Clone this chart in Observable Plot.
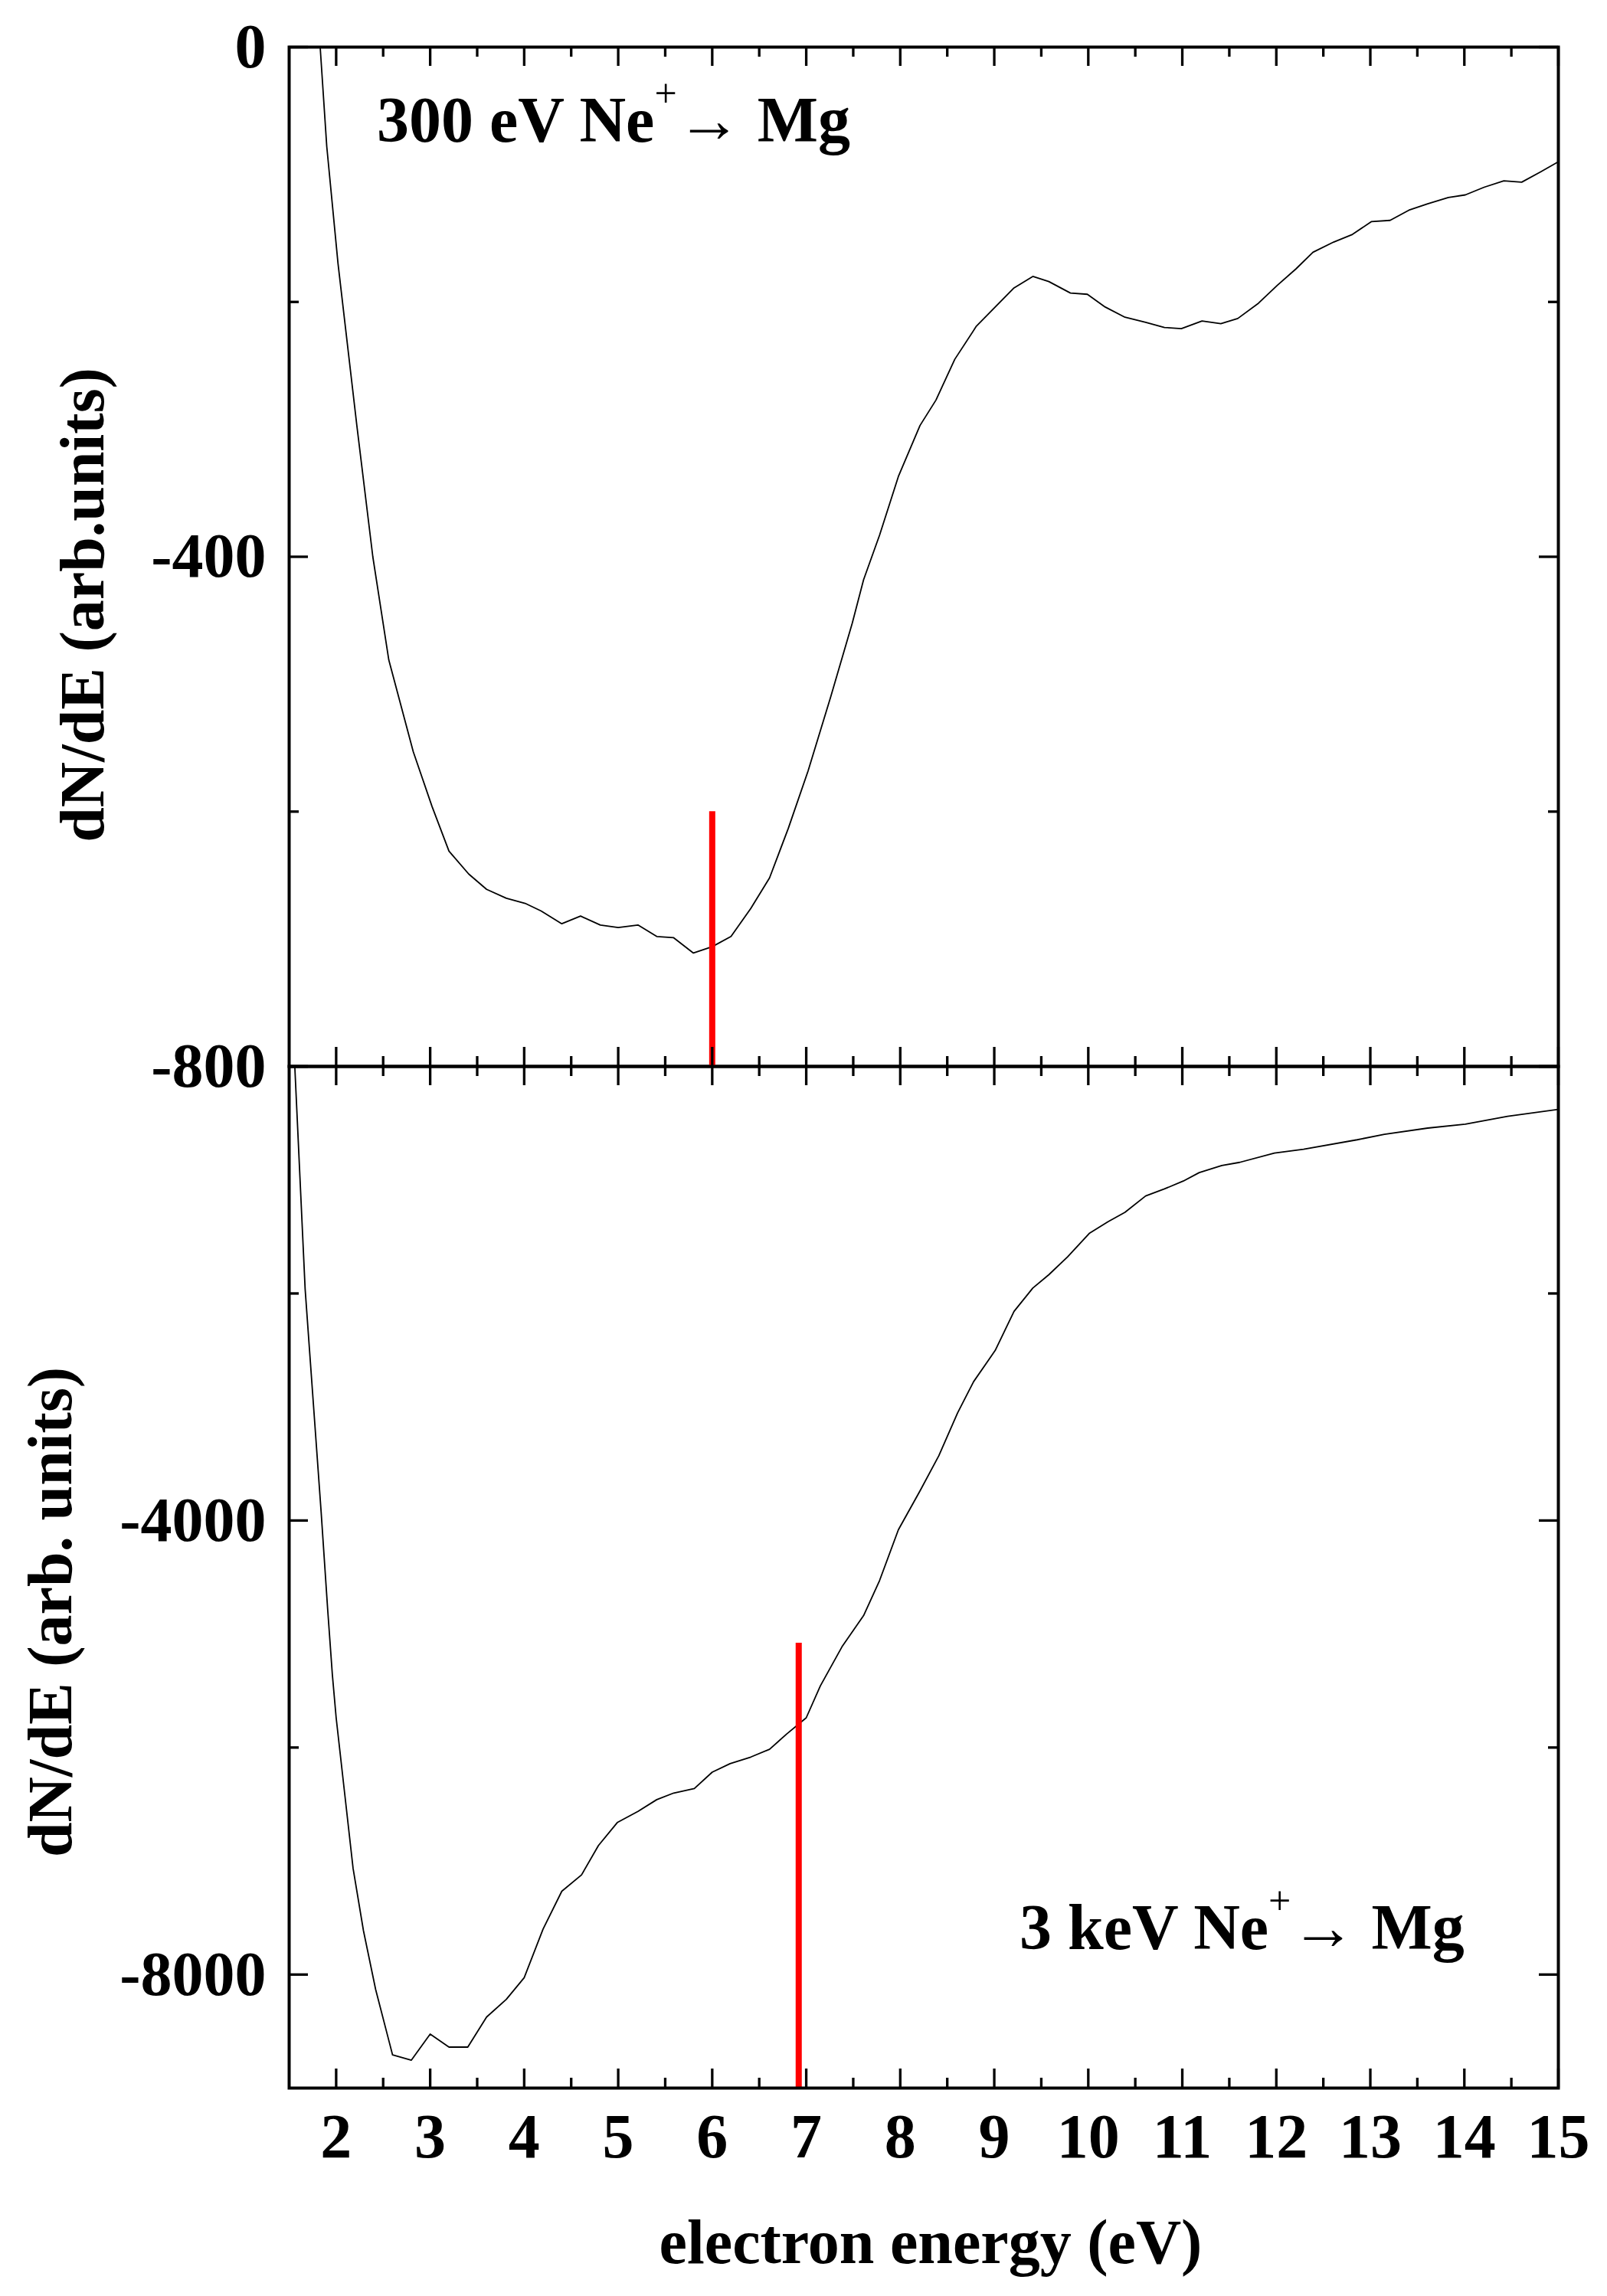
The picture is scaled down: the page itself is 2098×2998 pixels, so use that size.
<!DOCTYPE html>
<html>
<head>
<meta charset="utf-8">
<script src="https://cdn.jsdelivr.net/npm/d3@7"></script>
<script src="https://cdn.jsdelivr.net/npm/@observablehq/plot@0.6"></script>
<style>
  html, body { margin: 0; padding: 0; background: #fff; }
  #wrap { position: relative; width: 2098px; height: 2998px; overflow: hidden; background: #fff; }
  #wrap svg { position: absolute; left: 0; overflow: visible; }
</style>
</head>
<body>
<div id="wrap"></div>
<script>
// ---------- data ----------
const energy300 = [1.83,1.90,2.02,2.22,2.39,2.56,2.82,3.02,3.20,3.41,3.60,3.81,4.01,4.18,4.40,4.60,4.81,5.00,5.21,5.41,5.59,5.80,6.00,6.20,6.41,6.61,6.81,7.02,7.26,7.49,7.61,7.78,7.98,8.21,8.38,8.58,8.81,9.01,9.21,9.41,9.58,9.81,9.99,10.18,10.39,10.61,10.81,10.99,11.21,11.41,11.59,11.81,12.01,12.21,12.39,12.61,12.81,13.01,13.21,13.41,13.61,13.83,14.01,14.21,14.42,14.61,14.81,15.0];
const dNdE300 = [0,-78,-170,-297,-400,-481,-553,-596,-631,-649,-661,-668,-672,-678,-688,-682,-689,-691,-689,-698,-699,-711,-706,-698,-676,-652,-613,-568,-510,-452,-418,-383,-337,-297,-277,-245,-219,-204,-189,-180,-184,-193,-194,-204,-212,-216,-220,-221,-215,-217,-213,-201,-187,-174,-161,-153,-147,-137,-136,-128,-123,-118,-116,-110,-105,-106,-98,-90];

const energy3k = [1.56,1.67,1.76,1.84,1.91,1.96,2.00,2.09,2.18,2.29,2.42,2.60,2.80,3.00,3.20,3.40,3.60,3.81,4.00,4.20,4.40,4.61,4.79,4.99,5.21,5.41,5.59,5.81,6.00,6.19,6.41,6.61,6.79,7.00,7.15,7.38,7.61,7.78,7.98,8.21,8.41,8.61,8.78,9.01,9.21,9.41,9.58,9.78,10.01,10.21,10.39,10.61,10.81,11.01,11.18,11.42,11.61,11.98,12.29,12.86,13.15,13.61,14.01,14.46,15.0];
const dNdE3k = [0,-1961,-2999,-3922,-4787,-5363,-5738,-6401,-7065,-7612,-8131,-8708,-8754,-8524,-8639,-8639,-8374,-8218,-8028,-7601,-7266,-7122,-6863,-6661,-6563,-6459,-6401,-6361,-6217,-6142,-6084,-6015,-5882,-5738,-5457,-5113,-4838,-4529,-4082,-3739,-3430,-3052,-2777,-2502,-2158,-1952,-1835,-1677,-1471,-1368,-1285,-1141,-1079,-1010,-935,-873,-845,-763,-729,-646,-598,-543,-509,-440,-378];

// red marker lines: [energy, y from, y to]
const marker300 = [6.0, -800, -600];
const marker3k = [6.92, -9000, -5080];

// axes
const xDomain = [1.5, 15];
const xMajor = [2,3,4,5,6,7,8,9,10,11,12,13,14,15];
const xMinor = [2.5,3.5,4.5,5.5,6.5,7.5,8.5,9.5,10.5,11.5,12.5,13.5,14.5];
const y300Domain = [-800, 0];
const y300Major = [0, -400, -800];
const y300Minor = [-200, -600];
const y300Labels = [0, -400, -800];
const y3kDomain = [-9000, 0];
const y3kMajor = [0, -4000, -8000];
const y3kMinor = [-2000, -6000];
const y3kLabels = [-4000, -8000];
const xLabels = xMajor;

// ---------- layout ----------
const W = 2098;
const mL = 377, mR = 64;
const plotW = W - mL - mR;
const MAJ = 25, MIN = 13, TW = 3.3;
const FONT = "Liberation Serif";

function tickMarks(yMajor, yMinor, plotH) {
  return [
    Plot.ruleX(xMajor, {insetTop: plotH - MAJ, strokeWidth: TW, stroke: "black"}),
    Plot.ruleX(xMinor, {insetTop: plotH - MIN, strokeWidth: TW, stroke: "black"}),
    Plot.ruleX(xMajor, {insetBottom: plotH - MAJ, strokeWidth: TW, stroke: "black"}),
    Plot.ruleX(xMinor, {insetBottom: plotH - MIN, strokeWidth: TW, stroke: "black"}),
    Plot.ruleY(yMajor, {insetRight: plotW - MAJ, strokeWidth: TW, stroke: "black"}),
    Plot.ruleY(yMinor, {insetRight: plotW - MIN, strokeWidth: TW, stroke: "black"}),
    Plot.ruleY(yMajor, {insetLeft: plotW - MAJ, strokeWidth: TW, stroke: "black"}),
    Plot.ruleY(yMinor, {insetLeft: plotW - MIN, strokeWidth: TW, stroke: "black"})
  ];
}

const fmt = d => String(d);
const styleObj = {fontFamily: FONT, fontSize: "82px", fontWeight: "bold", background: "white", color: "black"};

// ---------- top panel ----------
const topH = 1400, topMT = 61, topMB = 8;
const topPlotH = topH - topMT - topMB;
const data300 = energy300.map((e, i) => ({e, v: dNdE300[i]}));

const topPlot = Plot.plot({
  width: W, height: topH,
  marginLeft: mL, marginRight: mR, marginTop: topMT, marginBottom: topMB,
  style: styleObj,
  x: {domain: xDomain, axis: null},
  y: {domain: y300Domain, axis: null},
  marks: [
    Plot.axisY(y300Labels, {anchor: "left", tickSize: 0, tickPadding: 30, tickFormat: fmt, fontSize: 82, fontWeight: "bold", label: null}),
    Plot.line(data300, {x: "e", y: "v", stroke: "black", strokeWidth: 1.8, clip: true}),
    Plot.ruleX([marker300], {x: d => d[0], y1: d => d[1], y2: d => d[2], stroke: "#ff0000", strokeWidth: 8}),
    ...tickMarks(y300Major, y300Minor, topPlotH),
    Plot.frame({stroke: "black", strokeWidth: 4})
  ]
});

// ---------- bottom panel ----------
const botTop = 1382;
const botH = 2998 - botTop, botMT = 10, botMB = 272;
const botPlotH = botH - botMT - botMB;
const data3k = energy3k.map((e, i) => ({e, v: dNdE3k[i]}));

const botPlot = Plot.plot({
  width: W, height: botH,
  marginLeft: mL, marginRight: mR, marginTop: botMT, marginBottom: botMB,
  style: styleObj,
  x: {domain: xDomain, axis: null},
  y: {domain: y3kDomain, axis: null},
  marks: [
    Plot.axisY(y3kLabels, {anchor: "left", tickSize: 0, tickPadding: 30, tickFormat: fmt, fontSize: 82, fontWeight: "bold", label: null}),
    Plot.axisX(xLabels, {anchor: "bottom", tickSize: 0, tickPadding: 32, tickFormat: fmt, fontSize: 82, fontWeight: "bold", label: null}),
    Plot.line(data3k, {x: "e", y: "v", stroke: "black", strokeWidth: 1.8, clip: true}),
    Plot.ruleX([marker3k], {x: d => d[0], y1: d => d[1], y2: d => d[2], stroke: "#ff0000", strokeWidth: 8}),
    ...tickMarks(y3kMajor, y3kMinor, botPlotH),
    Plot.frame({stroke: "black", strokeWidth: 4})
  ]
});

const wrap = document.getElementById("wrap");
topPlot.style.top = "0px";
botPlot.style.top = botTop + "px";
wrap.appendChild(botPlot);
wrap.appendChild(topPlot);
topPlot.style.background = "transparent";

// ---------- titles and annotations ----------
function addLabel(svg, x, y, parts) {
  const t = d3.select(svg).append("text")
    .attr("x", x).attr("y", y)
    .attr("text-anchor", "start")
    .attr("font-family", FONT).attr("font-size", 84).attr("font-weight", "bold")
    .attr("fill", "black");
  parts.forEach(p => {
    const s = t.append("tspan").text(p.t);
    if (p.w) s.attr("font-weight", p.w);
    if (p.s) s.attr("font-size", p.s);
    if (p.dy) s.attr("dy", p.dy);
  });
  return t;
}
const annot = (energy) => [
  {t: energy + " Ne"},
  {t: "+", w: "normal", s: 52, dy: -46},
  {t: "\u2192", w: "normal", s: 84, dy: 46},
  {t: " Mg"}
];
addLabel(topPlot, 492, 185, annot("300 eV"));
addLabel(botPlot, 1331, 2545 - botTop, annot("3 keV"));

function addTitle(svg, x, y, rot, text) {
  d3.select(svg).append("text")
    .attr("transform", `translate(${x},${y}) rotate(${rot})`)
    .attr("text-anchor", "middle")
    .attr("font-family", FONT).attr("font-size", 82).attr("font-weight", "bold")
    .attr("fill", "black")
    .text(text);
}
addTitle(topPlot, 135, 790, -90, "dN/dE (arb.units)");
addTitle(botPlot, 93, 2105 - botTop, -90, "dN/dE (arb. units)");
addTitle(botPlot, 1215, 2955 - botTop, 0, "electron energy (eV)");
</script>
</body>
</html>
